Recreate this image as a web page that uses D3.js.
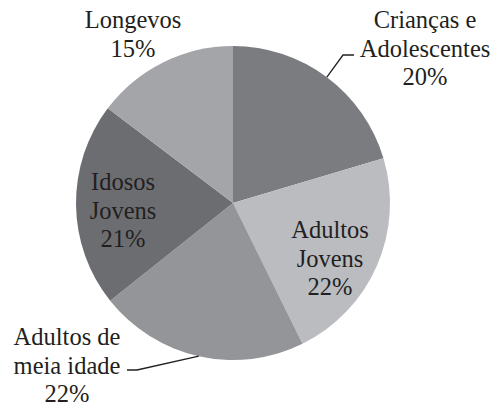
<!DOCTYPE html>
<html>
<head>
<meta charset="utf-8">
<script src="https://cdn.jsdelivr.net/npm/d3@7"></script>
<style>
  body { margin: 0; background: #fff; }
  svg text { font-family: "Liberation Serif", "DejaVu Serif", serif; }
</style>
</head>
<body>
<svg id="chart" width="493" height="408"></svg>
<script>
var categories = ["Crianças e Adolescentes", "Adultos Jovens", "Adultos de meia idade", "Idosos Jovens", "Longevos"];
var shares = [20.4, 22.3, 21.6, 21.0, 14.7];
var labelLines = [["Crianças e", "Adolescentes"], ["Adultos", "Jovens"], ["Adultos de", "meia idade"], ["Idosos", "Jovens"], ["Longevos"]];
var sliceColors = ["#7b7c80", "#bbbcc0", "#949599", "#6c6d71", "#a4a5a9"];

var cx = 233, cy = 203, radius = 157;
var lineH = 28.5;

// where each label block's first baseline sits (centre x, first baseline y)
var labelAt = [
	{x: 425, y: 28, leader: [[343, 55], [354, 55]]},
	{x: 330, y: 238},
	{x: 67, y: 345, leader: [[137, 370], [127, 370]]},
	{x: 123, y: 190},
	{x: 133, y: 28}
];

var svg = d3.select("#chart");
var g = svg.append("g").attr("transform", "translate(" + cx + "," + cy + ")");

var pie = d3.pie().sort(null).value(function(d){ return d; });
var arc = d3.arc().innerRadius(0).outerRadius(radius);
var arcs = pie(shares);

g.selectAll("path.slice").data(arcs).enter().append("path")
	.attr("class", "slice")
	.attr("d", arc)
	.style("fill", function(d, i){ return sliceColors[i]; });

// leader lines start on the rim at the slice's mid angle
arcs.forEach(function(d, i){
	var L = labelAt[i].leader;
	if (!L) return;
	var a = (d.startAngle + d.endAngle) / 2;
	var p0 = [cx + radius * Math.sin(a), cy - radius * Math.cos(a)];
	svg.append("path")
		.attr("d", d3.line()([p0, L[0], L[1]]))
		.style("fill", "none")
		.style("stroke", "#231f20")
		.style("stroke-width", 1.3);
});

categories.forEach(function(c, i){
	var lines = labelLines[i].concat([Math.round(shares[i]) + "%"]);
	var t = svg.append("text")
		.attr("text-anchor", "middle")
		.attr("font-size", 24.5)
		.attr("fill", "#231f20");
	lines.forEach(function(s, j){
		t.append("tspan")
			.attr("x", labelAt[i].x)
			.attr("y", labelAt[i].y + j * lineH)
			.text(s);
	});
});
</script>
</body>
</html>
